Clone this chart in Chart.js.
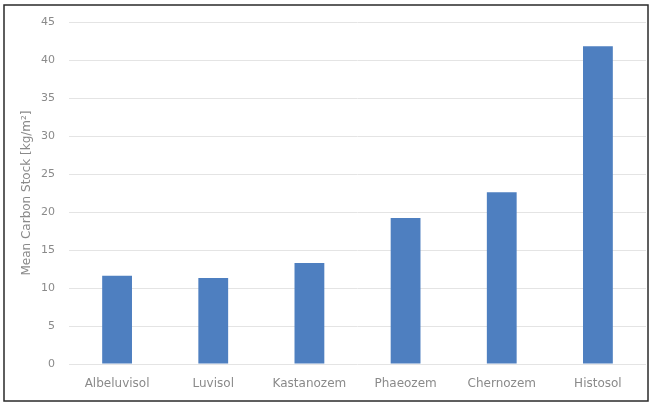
<!DOCTYPE html>
<html>
<head>
<meta charset="utf-8">
<script src="https://cdn.jsdelivr.net/npm/chart.js@4/dist/chart.umd.min.js"></script>
<style>
  body { margin: 0; background: #fff; }
  canvas { display: block; }
</style>
</head>
<body>
<canvas id="stockChart" width="652" height="405"></canvas>
<script>
// soil types and mean carbon stock (kg/m2)
const soilTypes = ["Albeluvisol", "Luvisol", "Kastanozem", "Phaeozem", "Chernozem", "Histosol"];
const carbonStock = [11.6, 11.3, 13.3, 19.2, 22.6, 41.8];
const yTicks = [0, 5, 10, 15, 20, 25, 30, 35, 40, 45];

// outer frame round the picture
const framePlugin = {
  id: "frame",
  afterDraw(chart) {
    const ctx = chart.ctx;
    ctx.save();
    ctx.strokeStyle = "#2a2a2a";
    ctx.lineWidth = 1.5;
    ctx.strokeRect(4, 5, 644, 396);
    ctx.restore();
  },
};

const ctx = document.getElementById("stockChart").getContext("2d");
new Chart(ctx, {
  type: "bar",
  data: {
    labels: soilTypes,
    datasets: [
      {
        data: carbonStock,
        backgroundColor: "#4e7fc0",
        borderWidth: 0,
        categoryPercentage: 0.62,
        barPercentage: 0.5,
      },
    ],
  },
  options: {
    responsive: false,
    animation: false,
    layout: { padding: { left: 0, top: 22, right: 6, bottom: 0 } },
    plugins: { legend: { display: false }, tooltip: { enabled: false } },
    scales: {
      x: {
        grid: { display: false, drawTicks: false },
        border: { display: false },
        ticks: {
          color: "#8a8a8a",
          font: { family: "DejaVu Sans", size: 12 },
          padding: 13,
          maxRotation: 0,
        },
        afterFit: (s) => { s.height = 41; },
      },
      y: {
        min: 0,
        max: 45,
        afterBuildTicks: (s) => { s.ticks = yTicks.map((v) => ({ value: v })); },
        grid: { color: "#e4e4e4", drawTicks: false },
        border: { display: false },
        ticks: {
          color: "#8a8a8a",
          font: { family: "DejaVu Sans", size: 11 },
          padding: 14,
        },
        title: {
          display: true,
          text: "Mean Carbon Stock [kg/m²]",
          color: "#8a8a8a",
          font: { family: "DejaVu Sans", size: 12 },
          padding: { top: 20, bottom: 0 },
        },
        afterFit: (s) => { s.width = 69; },
      },
    },
  },
  plugins: [framePlugin],
});
</script>
</body>
</html>
